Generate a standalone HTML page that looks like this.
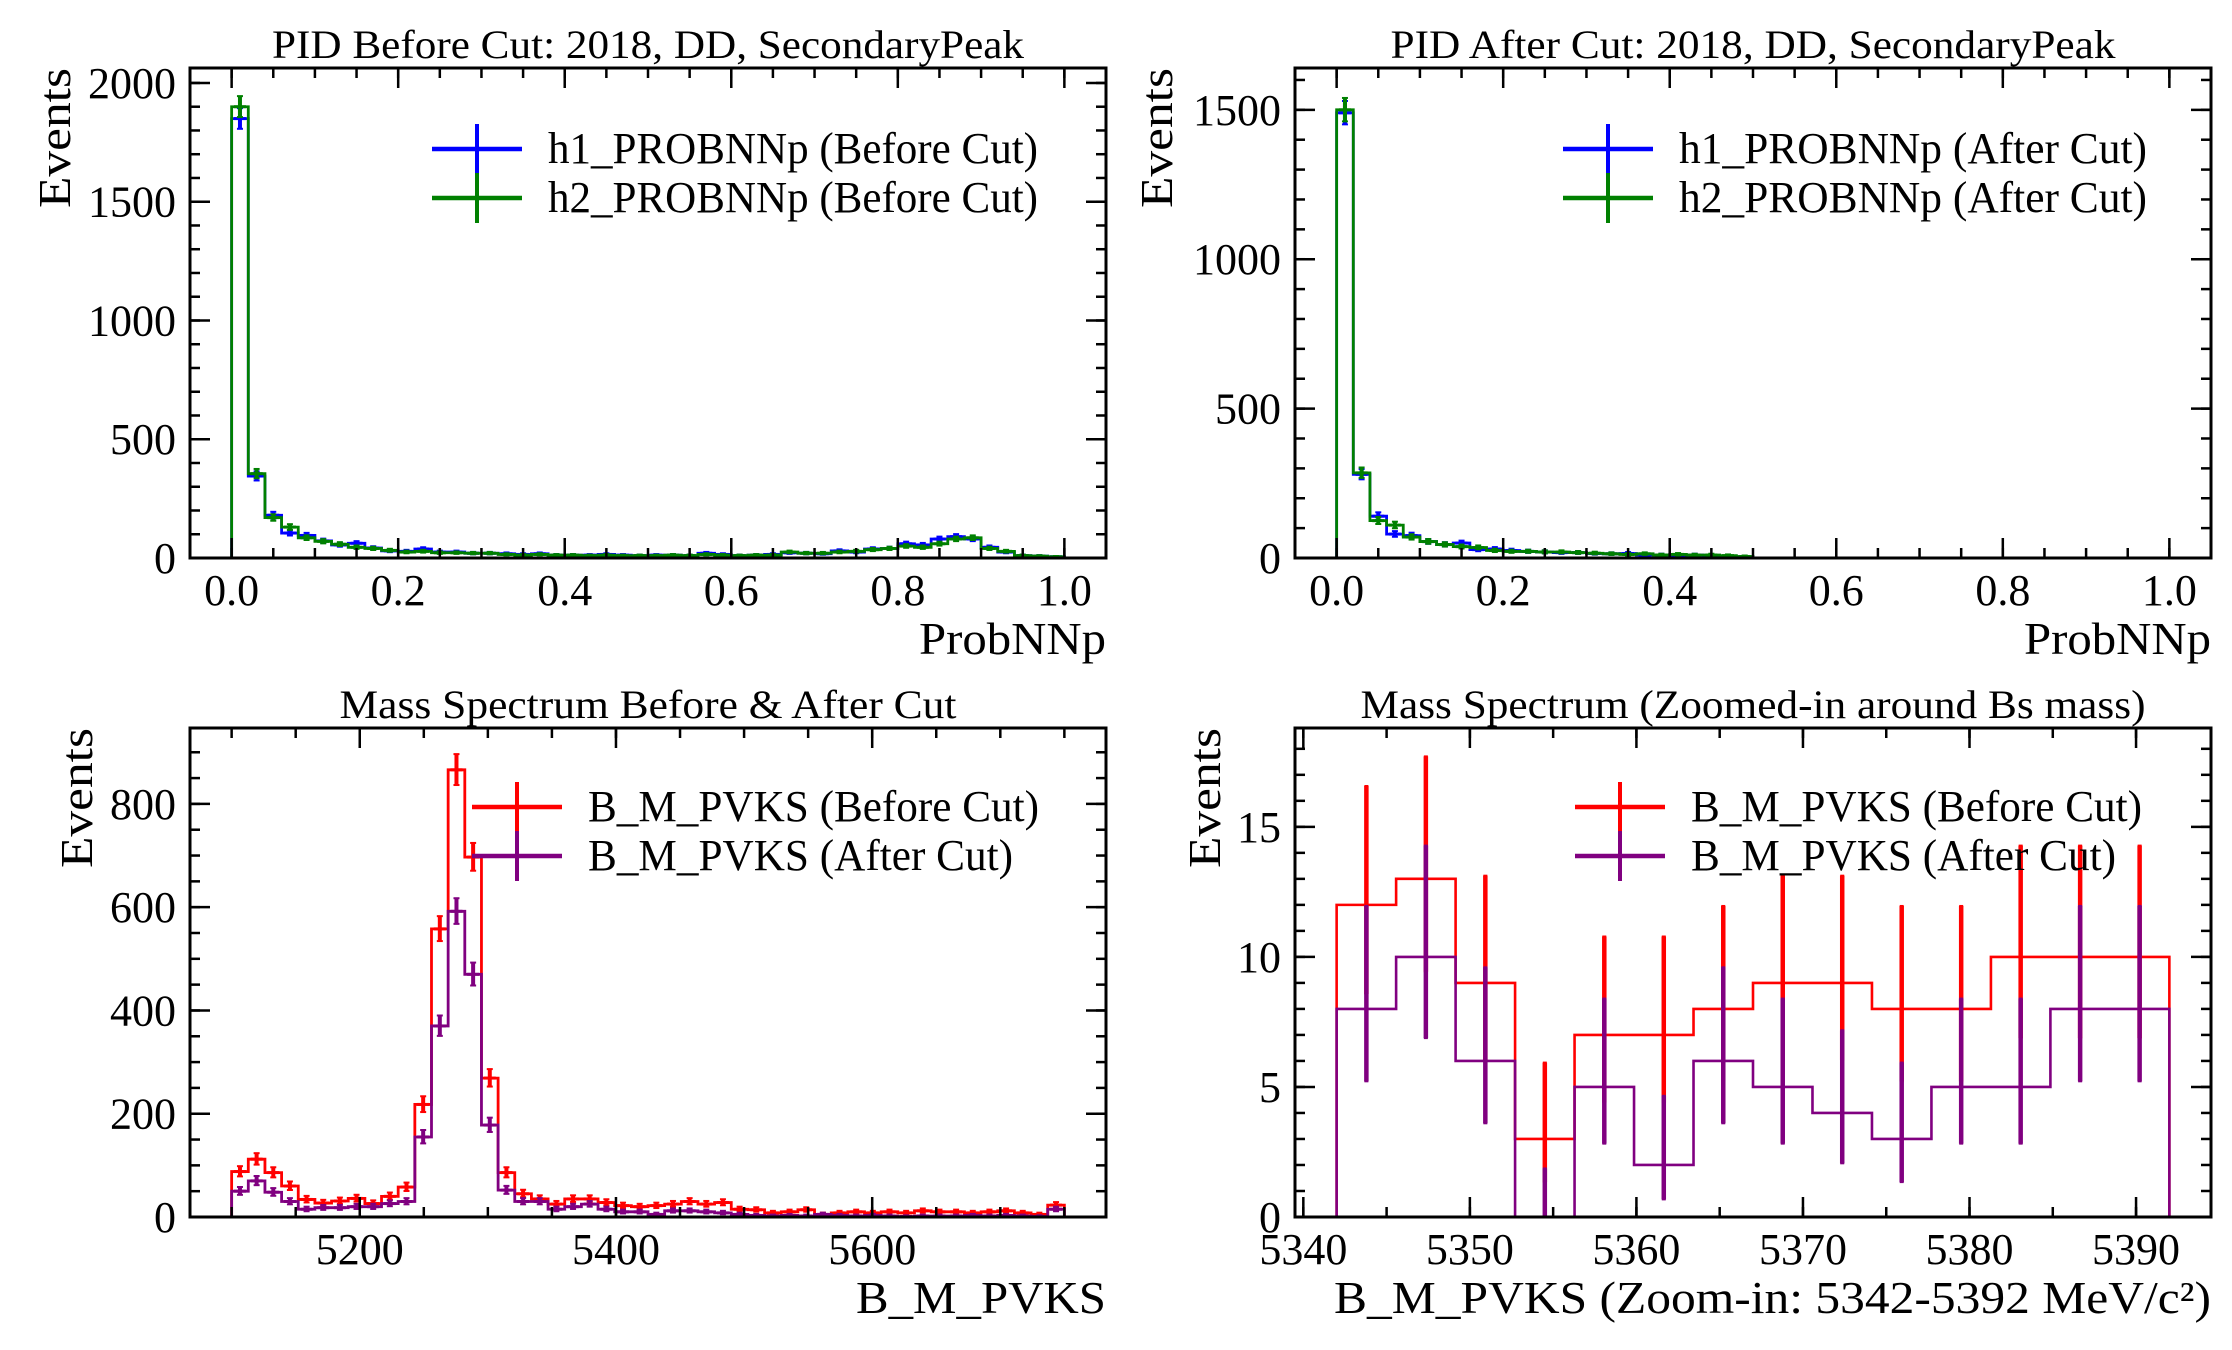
<!DOCTYPE html>
<html><head><meta charset="utf-8"><style>
html,body{margin:0;padding:0;background:#fff;}
svg{display:block;font-family:"Liberation Serif","DejaVu Serif",serif;}
</style></head><body>
<svg id="fig" width="2232" height="1350" viewBox="0 0 2232 1350" xmlns="http://www.w3.org/2000/svg"></svg>
<script>
// ---- Data ----
const pidBeforeH1 = [1850,345,180,105,95,72,55,62,42,30,28,38,25,25,20,20,18,15,18,12,12,12,15,12,10,12,12,10,20,15,10,12,15,22,20,18,30,25,38,40,60,55,80,90,80,45,25,10,8,5];
const pidBeforeH2 = [1900,355,170,130,85,70,58,45,40,32,25,28,22,22,20,20,15,12,15,12,12,10,12,10,10,10,12,10,15,12,10,12,12,25,20,20,25,28,35,40,50,45,60,80,85,40,28,10,8,5];
const pidAfterH1 = [1490,280,140,80,75,55,45,50,28,30,25,22,20,18,18,15,14,15,10,10,8,10,8,6,4];
const pidAfterH2 = [1500,285,125,110,70,55,45,38,35,25,22,22,20,20,18,16,14,12,14,10,12,10,10,8,5];
const massBefore = [88,112,86,60,34,27,31,36,26,40,58,218,558,866,697,269,86,45,35,25,35,35,28,22,20,22,25,30,25,28,15,14,8,10,14,5,8,10,8,10,8,12,10,10,8,10,12,8,5,23];
const massAfter = [50,70,48,30,15,18,18,20,20,26,30,155,370,592,470,178,52,30,30,15,20,25,15,10,10,5,12,12,10,8,5,3,2,3,2,5,3,2,3,2,1,2,2,2,3,2,3,2,1,15];
const zoomBefore = [12,13,9,3,7,7,8,9,9,8,8,10,10,10];
const zoomAfter = [8,10,6,0,5,2,6,5,4,3,5,5,8,8];
const pidTicksX = [0,0.2,0.4,0.6,0.8,1.0];
const pidTickLabelsX = ["0.0","0.2","0.4","0.6","0.8","1.0"];
const pidBeforeTicksY = [0,500,1000,1500,2000];
const pidAfterTicksY = [0,500,1000,1500];
const massTicksX = [5200,5400,5600];
const massTicksY = [0,200,400,600,800];
const zoomTicksX = [5340,5350,5360,5370,5380,5390];
const zoomTicksY = [0,5,10,15];

const NS="http://www.w3.org/2000/svg";
const svg=document.getElementById('fig');
function mk(tag,attrs,parent){const e=document.createElementNS(NS,tag);for(const k in attrs)e.setAttribute(k,attrs[k]);(parent||svg).appendChild(e);return e;}
function errs(n){return [Math.max(0,n-Math.sqrt(Math.max(n-0.25,0))), n+Math.sqrt(n+0.75)+1];}

function panel(cfg){
  const g=mk('g',{});
  
  
  const {L,R,T,B}=cfg;
  const sx=v=>L+(v-cfg.xmin)/(cfg.xmax-cfg.xmin)*(R-L);
  const sy=v=>B-(v-cfg.ymin)/(cfg.ymax-cfg.ymin)*(B-T);
  const clip='clip-'+cfg.name;
  const cp=mk('clipPath',{id:clip},g);mk('rect',{x:L,y:T,width:R-L,height:B-T},cp);
  const dg=mk('g',{'clip-path':'url(#'+clip+')'},g);
  cfg.series.forEach(s=>{
    const n=s.values.length;const w=(cfg.hi-cfg.lo)/n;
    let d='M'+sx(cfg.lo)+','+sy(0);
    s.values.forEach((v,i)=>{d+=' L'+sx(cfg.lo+i*w)+','+sy(v)+' L'+sx(cfg.lo+(i+1)*w)+','+sy(v);});
    d+=' L'+sx(cfg.hi)+','+sy(0);
    const p=mk('path',{d:d,fill:'none',stroke:s.color,'stroke-width':cfg.lw||2.8},dg);
    
    
    s.values.forEach((v,i)=>{
      const c=sx(cfg.lo+(i+0.5)*w);const [lo,hi]=errs(v);
      const eg=mk('g',{},dg);
      
      
      mk('line',{x1:c,x2:c,y1:sy(lo),y2:sy(hi),stroke:s.color,'stroke-width':cfg.ew||4},eg);
      const cap=cfg.cap||3;
      mk('line',{x1:c-cap,x2:c+cap,y1:sy(lo),y2:sy(lo),stroke:s.color,'stroke-width':2},eg);
      mk('line',{x1:c-cap,x2:c+cap,y1:sy(hi),y2:sy(hi),stroke:s.color,'stroke-width':2},eg);
      if(cfg.xbar){mk('line',{x1:c-cfg.xbar,x2:c+cfg.xbar,y1:sy(v),y2:sy(v),stroke:s.color,'stroke-width':3},eg);}
    });
  });
  const fr=mk('rect',{x:L,y:T,width:R-L,height:B-T,fill:'none',stroke:'#000','stroke-width':3},g);
  
  
  const tg=mk('g',{stroke:'#000','stroke-width':2.5},g);
  for(let v=cfg.xminorStart;v<=cfg.xmax+1e-9;v+=cfg.xminor){const x=sx(v);if(x<L||x>R)continue;
    mk('line',{x1:x,x2:x,y1:B,y2:B-10},tg);mk('line',{x1:x,x2:x,y1:T,y2:T+10},tg);}
  for(let v=cfg.yminorStart;v<=cfg.ymax+1e-9;v+=cfg.yminor){const y=sy(v);if(y<T||y>B)continue;
    mk('line',{x1:L,x2:L+10,y1:y,y2:y},tg);mk('line',{x1:R,x2:R-10,y1:y,y2:y},tg);}
  cfg.xticks.forEach((v,i)=>{const x=sx(v);
    mk('line',{x1:x,x2:x,y1:B,y2:B-20},tg);mk('line',{x1:x,x2:x,y1:T,y2:T+20},tg);
    const t=mk('text',{x:x,y:B+47,'text-anchor':'middle','font-size':44},g);t.textContent=cfg.xlabels?cfg.xlabels[i]:String(v);
    });
  cfg.yticks.forEach(v=>{const y=sy(v);
    mk('line',{x1:L,x2:L+20,y1:y,y2:y},tg);mk('line',{x1:R,x2:R-20,y1:y,y2:y},tg);
    const t=mk('text',{x:L-14,y:y+15,'text-anchor':'end','font-size':44},g);t.textContent=String(v);
    });
  const tt=mk('text',{x:(L+R)/2,y:T-10,'text-anchor':'middle','font-size':40,textLength:cfg.titleW,lengthAdjust:'spacingAndGlyphs'},g);
  tt.textContent=cfg.title;
  const xl=mk('text',{x:R,y:cfg.xlabelY,'text-anchor':'end','font-size':46,textLength:cfg.xlabelW,lengthAdjust:'spacingAndGlyphs'},g);
  xl.textContent=cfg.xlabel;
  const yl=mk('text',{x:0,y:0,'text-anchor':'end','font-size':46,textLength:140,lengthAdjust:'spacingAndGlyphs',transform:'translate('+cfg.ylabelX+','+T+') rotate(-90)'},g);
  yl.textContent='Events';
  cfg.series.forEach((s,i)=>{
    const y=cfg.legY+i*49;const lg=mk('g',{},g);
    
    mk('line',{x1:cfg.legX,x2:cfg.legX+90,y1:y,y2:y,stroke:s.color,'stroke-width':4.5},lg);
    mk('line',{x1:cfg.legX+45,x2:cfg.legX+45,y1:y-25,y2:y+25,stroke:s.color,'stroke-width':4},lg);
    const t=mk('text',{x:cfg.legX+116,y:y+14,'font-size':44,textLength:cfg.legW[i],lengthAdjust:'spacingAndGlyphs'},lg);
    t.textContent=s.label;
  });
}

panel({name:'pid-before-panel',L:190,R:1106,T:68,B:558,xmin:-0.05,xmax:1.05,ymin:0,ymax:2063,lo:0,hi:1,
  series:[{key:'h1',color:'#0000ff',values:pidBeforeH1,label:'h1_PROBNNp (Before Cut)'},{key:'h2',color:'#008000',values:pidBeforeH2,label:'h2_PROBNNp (Before Cut)'}],
  xticks:pidTicksX,xlabels:pidTickLabelsX,yticks:pidBeforeTicksY,xminor:0.05,xminorStart:0,yminor:100,yminorStart:0,
  title:'PID Before Cut: 2018, DD, SecondaryPeak',titleW:752,xlabel:'ProbNNp',xlabelY:654,xlabelW:187,ylabelX:70,
  legX:432,legY:149,legW:[490,490],xbar:6});
panel({name:'pid-after-panel',L:1295,R:2211,T:68,B:558,xmin:-0.05,xmax:1.05,ymin:0,ymax:1640,lo:0,hi:0.5,
  series:[{key:'h1',color:'#0000ff',values:pidAfterH1,label:'h1_PROBNNp (After Cut)'},{key:'h2',color:'#008000',values:pidAfterH2,label:'h2_PROBNNp (After Cut)'}],
  xticks:pidTicksX,xlabels:pidTickLabelsX,yticks:pidAfterTicksY,xminor:0.05,xminorStart:0,yminor:100,yminorStart:0,
  title:'PID After Cut: 2018, DD, SecondaryPeak',titleW:725,xlabel:'ProbNNp',xlabelY:654,xlabelW:187,ylabelX:1172,
  legX:1563,legY:149,legW:[468,468],xbar:6});
panel({name:'mass-spectrum-panel',L:190,R:1106,T:728,B:1217,xmin:5067.5,xmax:5782.5,ymin:0,ymax:947,lo:5100,hi:5750,
  series:[{key:'before',color:'#ff0000',values:massBefore,label:'B_M_PVKS (Before Cut)'},{key:'after',color:'#800080',values:massAfter,label:'B_M_PVKS (After Cut)'}],
  xticks:massTicksX,yticks:massTicksY,xminor:50,xminorStart:5100,yminor:50,yminorStart:0,
  title:'Mass Spectrum Before & After Cut',titleW:617,xlabel:'B_M_PVKS',xlabelY:1313,xlabelW:250,ylabelX:92,
  legX:472,legY:807,legW:[451,425],xbar:6});
panel({name:'zoom-mass-panel',L:1295,R:2211,T:728,B:1217,xmin:5339.5,xmax:5394.5,ymin:0,ymax:18.8,lo:5342,hi:5392,
  series:[{key:'before',color:'#ff0000',values:zoomBefore,label:'B_M_PVKS (Before Cut)'},{key:'after',color:'#800080',values:zoomAfter,label:'B_M_PVKS (After Cut)'}],
  xticks:zoomTicksX,yticks:zoomTicksY,xminor:5,xminorStart:5340,yminor:1,yminorStart:0,
  title:'Mass Spectrum (Zoomed-in around Bs mass)',titleW:785,xlabel:'B_M_PVKS (Zoom-in: 5342-5392 MeV/c²)',xlabelY:1313,xlabelW:877,ylabelX:1220,
  legX:1575,legY:807,legW:[451,425],lw:2.6,ew:4.5,cap:2});
</script>
</body></html>
